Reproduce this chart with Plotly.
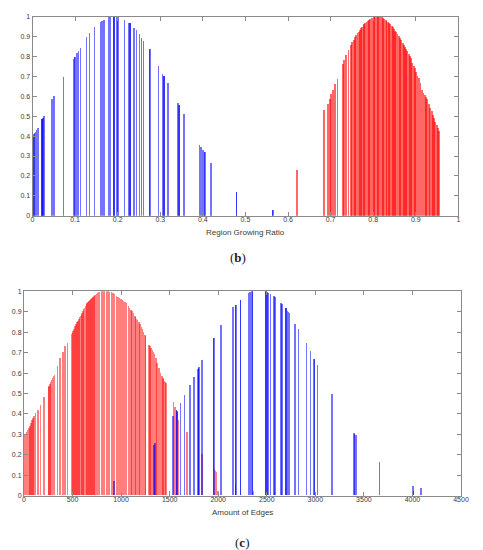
import plotly.graph_objects as go

# ---------- panel (b): Region Growing Ratio ----------
b_blue_x = [0.000, 0.002, 0.004, 0.006, 0.008, 0.0115, 0.0207, 0.0212, 0.0238, 0.026,
            0.0446, 0.049, 0.0716, 0.0946, 0.098, 0.0985, 0.103, 0.107, 0.111, 0.1258,
            0.1327, 0.145, 0.158, 0.162, 0.1665, 0.178, 0.182, 0.190, 0.1905, 0.196,
            0.199, 0.1995, 0.215, 0.225, 0.228, 0.2285, 0.237, 0.243, 0.250, 0.255,
            0.260, 0.274, 0.2745, 0.2946, 0.3046, 0.3076, 0.3081, 0.317, 0.340, 0.343,
            0.3435, 0.3544, 0.391, 0.395, 0.399, 0.403, 0.4035, 0.418, 0.478, 0.4785,
            0.563, 0.5635]
b_blue_y = [0.40, 0.41, 0.415, 0.42, 0.43, 0.44, 0.485, 0.485, 0.49, 0.50,
            0.585, 0.60, 0.70, 0.79, 0.80, 0.80, 0.82, 0.83, 0.845, 0.90,
            0.92, 0.95, 0.975, 0.98, 0.985, 1.0, 1.0, 1.0, 1.0, 1.0,
            1.0, 1.0, 0.985, 0.97, 0.968, 0.968, 0.945, 0.935, 0.915, 0.895,
            0.88, 0.84, 0.84, 0.755, 0.715, 0.705, 0.705, 0.668, 0.565, 0.555,
            0.555, 0.51, 0.355, 0.345, 0.33, 0.32, 0.32, 0.265, 0.12, 0.12,
            0.03, 0.03]

b_red_x = [0.620, 0.684, 0.692, 0.697, 0.700, 0.705, 0.710, 0.715, 0.727, 0.731,
           0.736, 0.741, 0.746, 0.750, 0.753, 0.756, 0.759, 0.762, 0.765, 0.768,
           0.771, 0.773, 0.776, 0.778, 0.780, 0.783, 0.786, 0.789, 0.792, 0.795,
           0.798, 0.801, 0.804, 0.807, 0.810, 0.813, 0.816, 0.819, 0.822, 0.825,
           0.828, 0.830, 0.833, 0.836, 0.839, 0.842, 0.845, 0.848, 0.851, 0.853,
           0.856, 0.859, 0.862, 0.865, 0.868, 0.871, 0.874, 0.876, 0.879, 0.882,
           0.885, 0.888, 0.891, 0.894, 0.897, 0.900, 0.903, 0.907, 0.910, 0.914,
           0.917, 0.920, 0.923, 0.926, 0.930, 0.933, 0.936, 0.939, 0.942, 0.945,
           0.948, 0.951, 0.954]
b_red_y = [0.23, 0.53, 0.56, 0.585, 0.61, 0.635, 0.665, 0.69, 0.765, 0.785,
           0.808, 0.833, 0.858, 0.872, 0.885, 0.90, 0.91, 0.918, 0.925, 0.935,
           0.943, 0.949, 0.958, 0.964, 0.97, 0.976, 0.982, 0.987, 0.99, 0.994,
           0.996, 0.998, 0.999, 1.0, 1.0, 1.0, 0.999, 0.998, 0.995, 0.99,
           0.986, 0.982, 0.976, 0.97, 0.963, 0.957, 0.948, 0.94, 0.93, 0.924,
           0.913, 0.903, 0.893, 0.883, 0.868, 0.858, 0.848, 0.84, 0.828, 0.815,
           0.803, 0.792, 0.767, 0.755, 0.742, 0.725, 0.705, 0.693, 0.67, 0.635,
           0.62, 0.605, 0.595, 0.585, 0.56, 0.54, 0.527, 0.505, 0.49, 0.47,
           0.455, 0.44, 0.425]

# ---------- panel (c): Amount of Edges ----------
c_red_x = [10, 25, 37, 50, 61, 72, 84, 94, 104, 121,
           145, 172, 205, 250, 258, 266, 275, 284, 294, 303,
           313, 346, 373, 403, 423, 447, 491, 497, 505, 514,
           525, 537, 546, 554, 565, 573, 581, 590, 598, 606,
           615, 624, 632, 641, 650, 658, 667, 678, 689, 700,
           711, 722, 733, 745, 756, 768, 780, 800, 815, 830,
           850, 866, 883, 900, 917, 934, 951, 968, 984, 1000,
           1012, 1024, 1040, 1058, 1075, 1087, 1100, 1110, 1125, 1143,
           1150, 1160, 1170, 1182, 1194, 1210, 1221, 1232, 1244, 1250,
           1287, 1298, 1310, 1321, 1333, 1345, 1358, 1371, 1390, 1405,
           1420, 1432, 1439, 1449, 1455, 1462, 1540, 1556, 1570, 1590,
           1680, 1831, 1960, 1970, 1985, 2000, 2177, 2363, 2580]
c_red_y = [0.30, 0.31, 0.32, 0.33, 0.34, 0.355, 0.37, 0.38, 0.39, 0.405,
           0.42, 0.44, 0.48, 0.53, 0.535, 0.545, 0.555, 0.565, 0.575, 0.585,
           0.59, 0.635, 0.67, 0.70, 0.73, 0.745, 0.79, 0.795, 0.805, 0.815,
           0.83, 0.84, 0.85, 0.855, 0.865, 0.875, 0.88, 0.885, 0.89, 0.90,
           0.91, 0.915, 0.925, 0.935, 0.94, 0.945, 0.95, 0.955, 0.96, 0.968,
           0.972, 0.975, 0.98, 0.985, 0.99, 0.993, 0.996, 1.0, 1.0, 1.0,
           1.0, 0.998, 0.995, 0.993, 0.99, 0.985, 0.978, 0.972, 0.965, 0.96,
           0.957, 0.953, 0.945, 0.94, 0.925, 0.915, 0.905, 0.90, 0.89, 0.876,
           0.872, 0.865, 0.858, 0.848, 0.838, 0.825, 0.812, 0.80, 0.787, 0.78,
           0.735, 0.73, 0.72, 0.71, 0.70, 0.69, 0.67, 0.65, 0.625, 0.60,
           0.585, 0.575, 0.57, 0.56, 0.554, 0.55, 0.457, 0.43, 0.42, 0.37,
           0.31, 0.20, 0.13, 0.12, 0.115, 0.02, 0.055, 0.02, 0.015]

c_blue_x = [928, 1338, 1347, 1498, 1532, 1572, 1577, 1582, 1613, 1650,
            1707, 1751, 1791, 1796, 1801, 1835, 1953, 1957, 2027, 2154,
            2178, 2182, 2228, 2232, 2312, 2329, 2350, 2354, 2488, 2492,
            2503, 2513, 2540, 2574, 2584, 2648, 2658, 2696, 2700, 2715,
            2725, 2735, 2792, 2826, 2907, 2950, 2988, 2992, 3024, 3172,
            3397, 3405, 3420, 3662, 4005, 4012, 4086]
c_blue_y = [0.07, 0.245, 0.255, 0.02, 0.39, 0.42, 0.415, 0.41, 0.45, 0.49,
            0.54, 0.58, 0.62, 0.625, 0.63, 0.66, 0.77, 0.77, 0.835, 0.92,
            0.93, 0.93, 0.955, 0.955, 0.99, 0.995, 1.0, 1.0, 1.0, 1.0,
            0.995, 0.99, 0.985, 0.975, 0.97, 0.94, 0.935, 0.915, 0.915, 0.90,
            0.895, 0.89, 0.84, 0.815, 0.745, 0.705, 0.665, 0.665, 0.64, 0.495,
            0.305, 0.30, 0.295, 0.165, 0.045, 0.02, 0.035]

ticks01 = [0, 0.1, 0.2, 0.3, 0.4, 0.5, 0.6, 0.7, 0.8, 0.9, 1]
ticks_edges = [0, 500, 1000, 1500, 2000, 2500, 3000, 3500, 4000, 4500]

# page body has an 8px margin in the browser
OFF = 8
W, H = 483 - OFF, 550 - OFF
BLUE = "rgba(0,0,255,0.55)"
RED_B = "rgba(255,0,0,0.6)"
RED_C = "rgba(255,0,0,0.5)"

fig = go.Figure()
fig.add_trace(go.Bar(x=b_blue_x, y=b_blue_y, width=0.0034, marker=dict(color=BLUE, line=dict(width=0)),
                     xaxis="x", yaxis="y", showlegend=False))
fig.add_trace(go.Bar(x=b_red_x, y=b_red_y, width=0.0044, marker=dict(color=RED_B, line=dict(width=0)),
                     xaxis="x", yaxis="y", showlegend=False))
fig.add_trace(go.Bar(x=c_red_x, y=c_red_y, width=15, marker=dict(color=RED_C, line=dict(width=0)),
                     xaxis="x2", yaxis="y2", showlegend=False))
fig.add_trace(go.Bar(x=c_blue_x, y=c_blue_y, width=15, marker=dict(color=BLUE, line=dict(width=0)),
                     xaxis="x2", yaxis="y2", showlegend=False))

axis_common = dict(showline=True, linecolor="#8a8a8a", linewidth=1, mirror="ticks",
                   ticks="inside", ticklen=4, tickcolor="#8a8a8a", tickwidth=1,
                   showgrid=False, zeroline=False,
                   tickfont=dict(family="Liberation Sans, Arial", size=7, color="#3a3a3a"))


def px_x(p):
    return (p - OFF) / W


def px_y(p):
    return 1 - (p - OFF) / H


fig.update_layout(
    width=W, height=H,
    margin=dict(l=0, r=0, t=0, b=0),
    paper_bgcolor="white", plot_bgcolor="white",
    barmode="overlay", bargap=0,
    xaxis=dict(domain=[px_x(31), px_x(466)], range=[0, 1], tickvals=ticks01, anchor="y",
               ticklabelstandoff=-3, **axis_common),
    yaxis=dict(domain=[px_y(214.3), px_y(13)], range=[0, 1], tickvals=ticks01, anchor="x", **axis_common),
    xaxis2=dict(domain=[px_x(22.3), px_x(468.7)], range=[0, 4500], tickvals=ticks_edges, anchor="y2",
                ticklabelstandoff=-3, **axis_common),
    yaxis2=dict(domain=[px_y(498), px_y(291)], range=[0, 1], tickvals=ticks01, anchor="x2", **axis_common),
    annotations=[
        dict(text="Region Growing Ratio", x=px_x(248.5), y=px_y(231), xref="paper", yref="paper",
             yanchor="middle", showarrow=False,
             font=dict(family="Liberation Sans, Arial", size=8, color="#3a3a3a")),
        dict(text="(<b>b</b>)", x=px_x(241), y=px_y(257), xref="paper", yref="paper",
             yanchor="middle", showarrow=False,
             font=dict(family="Liberation Serif, DejaVu Serif", size=13, color="#222")),
        dict(text="Amount of Edges", x=px_x(245.5), y=px_y(515), xref="paper", yref="paper",
             yanchor="middle", showarrow=False,
             font=dict(family="Liberation Sans, Arial", size=8, color="#3a3a3a")),
        dict(text="(<b>c</b>)", x=px_x(245), y=px_y(545), xref="paper", yref="paper",
             yanchor="middle", showarrow=False,
             font=dict(family="Liberation Serif, DejaVu Serif", size=13, color="#222")),
    ],
)

fig.write_html("out.html")
